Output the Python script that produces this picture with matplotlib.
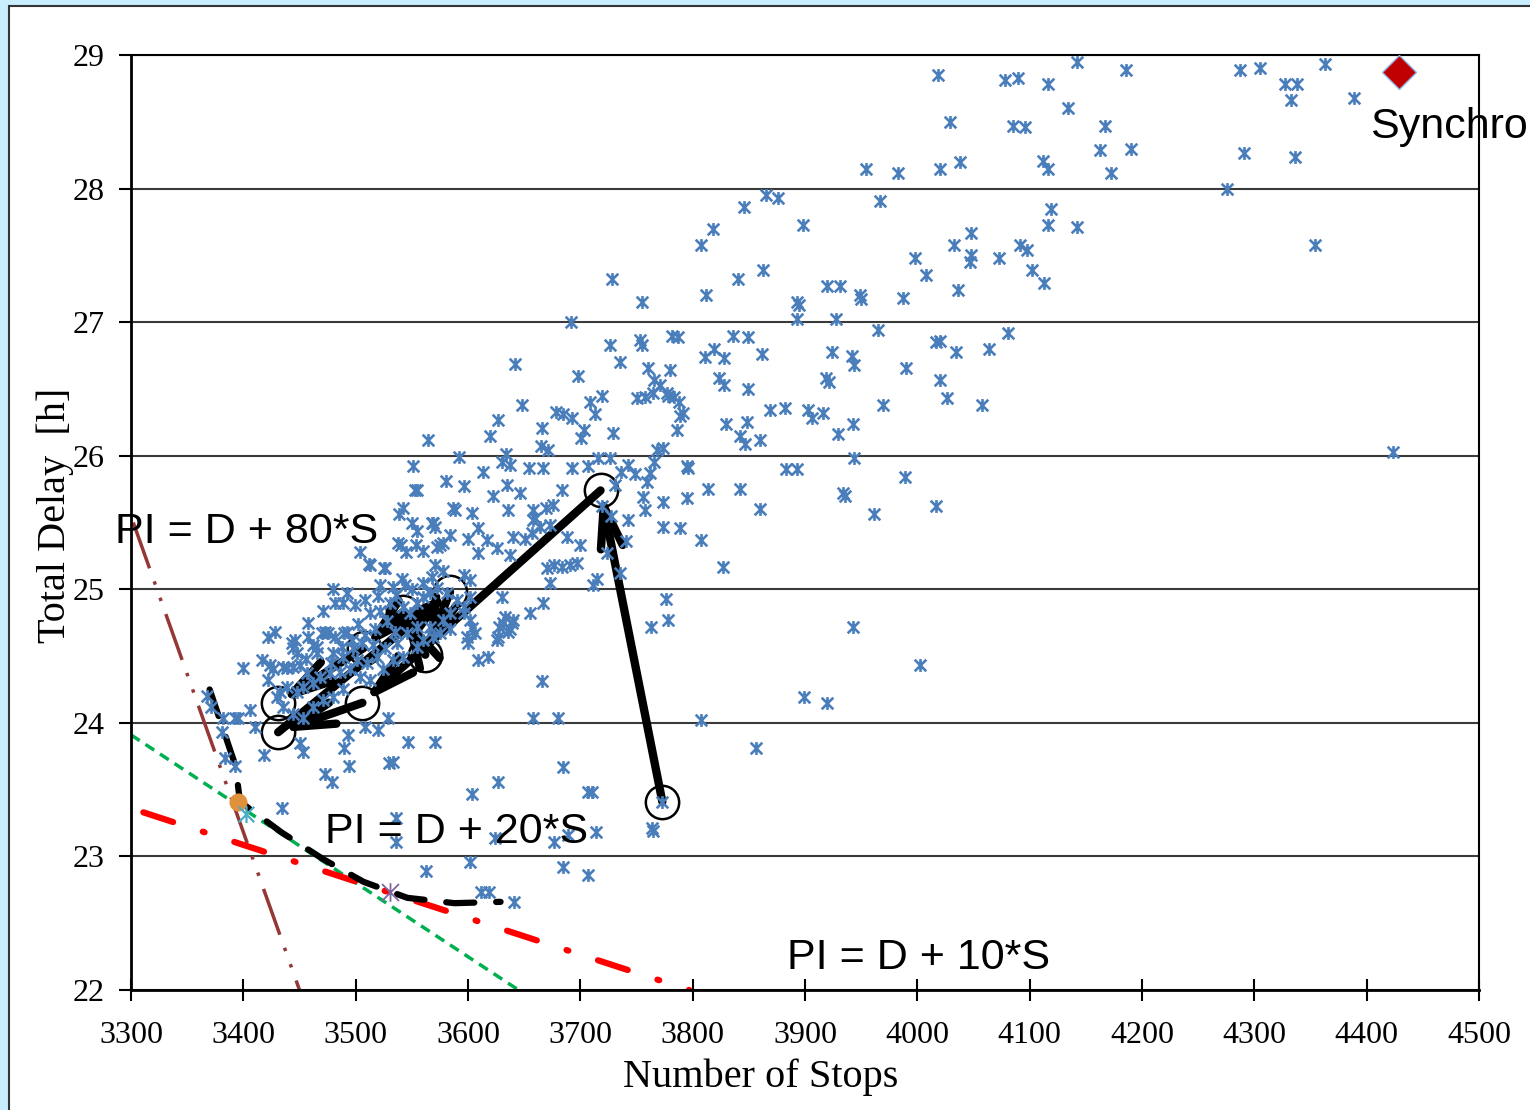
import numpy as np
import matplotlib
matplotlib.use("Agg")
import matplotlib.pyplot as plt
from matplotlib.path import Path
from matplotlib.patches import Rectangle

# scatter of candidate solutions (Number of Stops, Total Delay [h])
upper_pts = [
    (4142, 28.95), (4018, 28.85), (4078, 28.81), (4090, 28.83), (4186, 28.89), (4287, 28.89),
    (4305, 28.90), (4327, 28.78), (4338, 28.78), (4333, 28.66), (4363, 28.93), (4389, 28.68),
    (4116, 28.78), (4134, 28.60), (4029, 28.50), (4085, 28.47), (4096, 28.46), (4038, 28.20),
    (4020, 28.15), (4112, 28.21), (4116, 28.15), (4167, 28.47), (4163, 28.29), (4190, 28.30),
    (4172, 28.12), (4291, 28.27), (4336, 28.24), (4276, 28.00), (3954, 28.15), (3983, 28.12),
    (3865, 27.95), (3876, 27.93), (3846, 27.86), (3967, 27.91), (4119, 27.85), (4116, 27.73),
    (4142, 27.71), (3818, 27.70), (3807, 27.58), (3898, 27.73), (4033, 27.58), (4048, 27.67),
    (4048, 27.50), (4047, 27.45), (4073, 27.48), (4091, 27.58), (4098, 27.54), (4102, 27.39),
    (4113, 27.29), (4354, 27.58), (3998, 27.48), (4008, 27.35), (4036, 27.24), (3840, 27.32),
    (3863, 27.39), (3728, 27.32), (3812, 27.20), (3920, 27.27), (3931, 27.27), (3949, 27.20),
    (3950, 27.17), (3987, 27.18), (3893, 27.15), (3895, 27.13), (3755, 27.15), (3692, 27.00),
    (3893, 27.02), (3928, 27.02), (3965, 26.94), (4081, 26.92), (3782, 26.90), (3787, 26.89),
    (3836, 26.90), (3849, 26.89), (3753, 26.87), (3755, 26.83), (3726, 26.83), (3819, 26.80),
    (3811, 26.74), (4017, 26.85), (4020, 26.86), (4034, 26.78), (4064, 26.80), (3924, 26.78),
    (3862, 26.76), (3942, 26.75), (3944, 26.68), (3735, 26.70), (3642, 26.69), (3780, 26.64),
    (3760, 26.66), (3990, 26.66), (3828, 26.73), (3828, 26.53), (3849, 26.50), (3919, 26.58),
    (3921, 26.55), (3823, 26.58), (3698, 26.60), (3766, 26.57), (3771, 26.53), (3778, 26.45),
    (3750, 26.43), (3758, 26.44), (4020, 26.57), (4026, 26.43), (4058, 26.38), (3969, 26.38),
    (3869, 26.34), (3882, 26.36), (3903, 26.34), (3906, 26.28), (3916, 26.32), (3929, 26.16),
    (3830, 26.24), (3848, 26.25), (3842, 26.15), (3847, 26.09), (3943, 26.24), (3789, 26.30),
    (3786, 26.19), (3765, 26.47), (3777, 26.47), (3783, 26.44), (3788, 26.40), (3791, 26.32),
    (3860, 26.12), (3944, 25.98), (4423, 26.03), (3883, 25.90), (3893, 25.90), (3989, 25.84),
    (3814, 25.75), (3842, 25.75), (3934, 25.72), (3936, 25.70), (4017, 25.62), (3860, 25.60),
    (3961, 25.56), (3827, 25.17), (3796, 25.91),
]

mid_pts = [
    (3564, 26.12), (3648, 26.38), (3627, 26.27), (3620, 26.15), (3709, 26.40), (3719, 26.45),
    (3678, 26.33), (3685, 26.31), (3693, 26.28), (3713, 26.31), (3666, 26.21), (3703, 26.19),
    (3701, 26.13), (3729, 26.17), (3665, 26.07), (3671, 26.04), (3634, 26.01), (3592, 25.99),
    (3551, 25.92), (3580, 25.81), (3596, 25.77), (3555, 25.74), (3613, 25.88), (3637, 25.93),
    (3630, 25.95), (3542, 25.61), (3539, 25.56), (3568, 25.50), (3571, 25.47), (3587, 25.61),
    (3604, 25.57), (3622, 25.70), (3635, 25.78), (3646, 25.72), (3504, 25.28), (3512, 25.19),
    (3525, 25.16), (3540, 25.33), (3545, 25.28), (3554, 25.33), (3560, 25.29), (3575, 25.33),
    (3654, 25.91), (3667, 25.91), (3693, 25.91), (3707, 25.92), (3716, 25.98), (3726, 25.98),
    (3736, 25.88), (3742, 25.93), (3749, 25.86), (3759, 25.80), (3762, 25.87), (3766, 25.95),
    (3768, 26.04), (3774, 26.06), (3795, 25.92), (3795, 25.68), (3774, 25.65), (3758, 25.59),
    (3756, 25.69), (3774, 25.47), (3789, 25.46), (3807, 25.37), (3742, 25.52), (3741, 25.36),
    (3735, 25.12), (3724, 25.27), (3715, 25.08), (3711, 25.03), (3697, 25.20), (3691, 25.18),
    (3684, 25.17), (3677, 25.18), (3688, 25.39), (3700, 25.33), (3673, 25.05), (3636, 25.59),
    (3658, 25.59), (3660, 25.53), (3673, 25.48), (3676, 25.63), (3651, 25.38), (3640, 25.39),
    (3553, 25.74), (3588, 25.59), (3609, 25.46), (3538, 25.35), (3550, 25.50), (3555, 25.44),
    (3569, 25.50), (3572, 25.32), (3578, 25.35), (3584, 25.41), (3600, 25.38), (3609, 25.27),
    (3617, 25.37), (3626, 25.31), (3637, 25.26), (3658, 25.52), (3664, 25.47), (3657, 25.42),
    (3669, 25.61), (3670, 25.16), (3719, 25.62), (3727, 25.55), (3731, 25.78), (3684, 25.74),
]

cluster_pts = [
    (3513, 25.18), (3526, 25.16), (3480, 25.00), (3492, 24.97), (3489, 24.90), (3482, 24.90),
    (3471, 24.84), (3541, 25.08), (3544, 25.03), (3560, 25.05), (3568, 25.09), (3571, 25.18),
    (3578, 25.14), (3596, 25.11), (3602, 25.07), (3522, 25.03), (3533, 25.02), (3422, 24.64),
    (3428, 24.68), (3446, 24.62), (3458, 24.64), (3473, 24.68), (3482, 24.64), (3492, 24.68),
    (3444, 24.56), (3448, 24.52), (3466, 24.52), (3417, 24.47), (3424, 24.43), (3435, 24.42),
    (3444, 24.42), (3513, 24.82), (3522, 24.84), (3531, 24.90), (3542, 24.87), (3548, 24.82),
    (3555, 24.90), (3560, 24.94), (3566, 24.97), (3572, 25.01), (3581, 24.97), (3590, 24.92),
    (3596, 24.82), (3602, 24.77), (3584, 24.70), (3575, 24.67), (3566, 24.72), (3555, 24.72),
    (3546, 24.67), (3537, 24.60), (3526, 24.56), (3519, 24.49), (3510, 24.45), (3501, 24.47),
    (3495, 24.40), (3486, 24.38), (3477, 24.37), (3468, 24.34), (3462, 24.30), (3453, 24.27),
    (3448, 24.23), (3439, 24.27), (3433, 24.23), (3430, 24.19), (3435, 24.12), (3444, 24.07),
    (3453, 24.04), (3462, 24.12), (3471, 24.17), (3480, 24.19), (3489, 24.25), (3504, 24.34),
    (3513, 24.32), (3524, 24.40), (3533, 24.47), (3542, 24.49), (3555, 24.57), (3560, 24.62),
    (3569, 24.64), (3578, 24.77), (3584, 24.82), (3596, 24.87), (3602, 24.94), (3422, 24.32),
    (3426, 24.40), (3439, 24.41), (3450, 24.43), (3457, 24.37), (3470, 24.67), (3475, 24.67),
    (3490, 24.67), (3497, 24.62), (3466, 24.57), (3480, 24.52), (3489, 24.49), (3443, 24.60),
    (3604, 24.71), (3599, 24.64), (3627, 24.64), (3633, 24.79), (3639, 24.75), (3655, 24.82),
    (3609, 24.47), (3618, 24.49), (3600, 24.60), (3606, 24.67), (3626, 24.62), (3628, 24.72),
    (3637, 24.70), (3640, 24.77), (3667, 24.90), (3630, 24.94), (3631, 24.75), (3636, 24.68),
    (3502, 24.74), (3508, 24.66), (3517, 24.70), (3528, 24.76), (3535, 24.68), (3498, 24.56),
    (3506, 24.60), (3515, 24.58), (3456, 24.48), (3462, 24.58), (3478, 24.45), (3488, 24.57),
    (3520, 24.95), (3536, 24.96), (3550, 25.00), (3499, 24.88), (3508, 24.92), (3458, 24.75),
]

low_pts = [
    (3400, 24.41), (3382, 24.04), (3393, 24.04), (3395, 24.04), (3406, 24.10), (3410, 23.97),
    (3381, 23.93), (3384, 23.74), (3393, 23.68), (3418, 23.76), (3434, 23.36), (3450, 23.85),
    (3453, 23.78), (3473, 23.62), (3479, 23.56), (3490, 23.81), (3493, 23.91), (3494, 23.68),
    (3508, 23.97), (3520, 23.95), (3529, 24.04), (3547, 23.86), (3571, 23.86), (3533, 23.71),
    (3658, 24.04), (3680, 24.04), (3666, 24.31), (3368, 24.20), (3371, 24.12), (3536, 23.29),
    (3536, 23.11), (3627, 23.56), (3604, 23.47), (3685, 23.67), (3707, 23.48), (3710, 23.48),
    (3714, 23.18), (3689, 23.16), (3677, 23.11), (3765, 23.19), (3624, 23.14), (3602, 22.96),
    (3563, 22.89), (3685, 22.92), (3707, 22.86), (3612, 22.73), (3619, 22.73), (3641, 22.66),
    (3530, 23.70), (3763, 24.72), (3776, 24.93), (3778, 24.77), (3773, 23.41), (3807, 24.02),
    (3856, 23.81), (3899, 24.19), (3920, 24.15), (3943, 24.72), (4002, 24.43), (3764, 23.21),
]

# highlighted points
knee_stops, knee_delay = 3395, 23.41
best20_stops, best20_delay = 3402, 23.32
best10_stops, best10_delay = 3531, 22.73
synchro_stops, synchro_delay = 4429, 28.87

# pareto front (dashed black)
front_stops = [3370, 3393, 3397, 3434, 3471, 3507, 3546, 3588, 3629]
front_delay = [24.25, 23.68, 23.41, 23.18, 22.98, 22.81, 22.69, 22.65, 22.66]

# iso-PI lines
pi80_stops, pi80_delay = [3302, 3450], [25.50, 22.00]
pi20_stops, pi20_delay = [3300, 3645], [23.91, 22.00]
pi10_stops, pi10_delay = [3311, 3797], [23.33, 22.00]

# optimisation path (circles, arrows)
path_stops = [3773, 3718, 3506, 3431, 3584, 3562, 3542, 3507, 3431]
path_delay = [23.41, 25.74, 24.15, 23.93, 24.98, 24.51, 24.83, 24.56, 24.15]

x_ticks = list(range(3300, 4501, 100))
y_ticks = list(range(22, 30))

star = Path([(-1, -1), (1, 1), (-1, 1), (1, -1), (0, -1.1), (0, 1.1)],
            [Path.MOVETO, Path.LINETO] * 3)

fig = plt.figure(figsize=(15.3, 11.1), dpi=100)
fig.patch.set_facecolor('#C8EEFE')
fig.add_artist(Rectangle((9 / 1530, -0.1), 1.2, 1.1 - 5.5 / 1110, transform=fig.transFigure,
                         facecolor='white', edgecolor='#333333', lw=1.5, zorder=-10))

ax = fig.add_axes([131 / 1530, 120 / 1110, 1348 / 1530, 935 / 1110])
ax.set_xlim(3300, 4500)
ax.set_ylim(22, 29)
ax.set_facecolor('white')

for yv in y_ticks:
    ax.axhline(yv, color='#3a3a3a', lw=1.5, zorder=1)

ax.plot(pi80_stops, pi80_delay, color='#953735', lw=2.5, dashes=[14, 4, 1, 4, 1, 4], zorder=2)
ax.plot(pi20_stops, pi20_delay, color='#00B050', lw=2.5, dashes=[3, 2], zorder=2)
ax.plot(pi10_stops, pi10_delay, color='#FF0000', lw=4.5, dashes=[5, 5, 0.3, 5],
        dash_capstyle='round', solid_capstyle='round', zorder=2)
ax.plot(front_stops, front_delay, color='black', lw=4.5, dashes=[4.5, 3.5],
        dash_capstyle='round', zorder=3)

for i in range(len(path_stops) - 1):
    ax.annotate('', xy=(path_stops[i + 1], path_delay[i + 1]),
                xytext=(path_stops[i], path_delay[i]),
                arrowprops=dict(arrowstyle='->,head_length=3,head_width=0.8', lw=6,
                                color='black', shrinkA=0, shrinkB=0, mutation_scale=10),
                zorder=3)
ax.plot(path_stops, path_delay, 'o', ms=24, mfc='none', mec='black', mew=1.8, zorder=3)

ax.plot(knee_stops, knee_delay, 'o', ms=12, color='#E0913C', zorder=4)

pts = np.array(upper_pts + mid_pts + cluster_pts + low_pts)
ax.scatter(pts[:, 0], pts[:, 1], marker=star, s=85, color='#4A7EBB', linewidths=1.9, zorder=5)
ax.scatter([best20_stops], [best20_delay], marker=star, s=150, color='#4BACC6', linewidths=1.6, zorder=5)
ax.scatter([best10_stops], [best10_delay], marker=star, s=180, color='#8064A2', linewidths=1.3, zorder=5)
ax.plot(synchro_stops, synchro_delay, 'D', ms=17, color='#C00000', mec='#8EB4E3', mew=1, zorder=6)

txt = dict(family='Liberation Sans', fontsize=31, color='black', zorder=7, clip_on=False)
ax.text(3286, 25.35, 'PI = D + 80*S', ha='left', va='baseline', **txt)
ax.text(3473, 23.10, 'PI = D + 20*S', ha='left', va='baseline', **txt)
ax.text(3884, 22.16, 'PI = D + 10*S', ha='left', va='baseline', **txt)
ax.text(4403, 28.38, 'Synchro', ha='left', va='baseline', **txt)

ax.set_xticks(x_ticks)
ax.set_yticks(y_ticks)
ax.tick_params(axis='x', direction='inout', length=16, width=1.5, pad=14)
ax.tick_params(axis='y', direction='out', length=9, width=1.5, pad=10)
for lab in ax.get_xticklabels() + ax.get_yticklabels():
    lab.set_family('Liberation Serif')
    lab.set_fontsize(23)

for side in ['left', 'bottom']:
    ax.spines[side].set_linewidth(2)
for side in ['top', 'right']:
    ax.spines[side].set_linewidth(1.5)

ax.set_xlabel('Number of Stops', family='Liberation Serif', fontsize=29)
ax.set_ylabel('Total Delay  [h]', family='Liberation Serif', fontsize=29)
ax.xaxis.set_label_coords(0.467, -0.073)
ax.yaxis.set_label_coords(-0.042, 0.508)

fig.savefig('out.png', dpi=100, facecolor=fig.get_facecolor())
